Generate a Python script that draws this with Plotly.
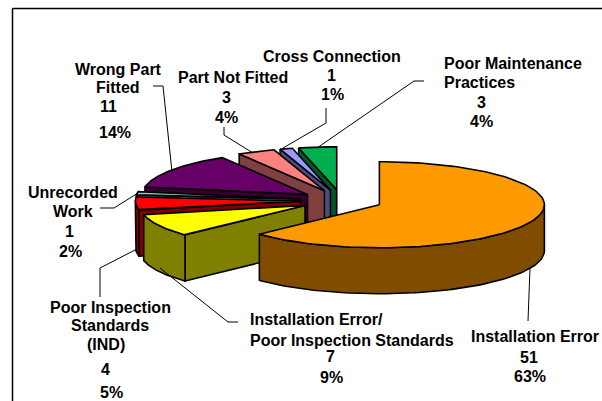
import numpy as np
import plotly.graph_objects as go

categories = ["Installation Error", "Installation Error/ Poor Inspection Standards",
              "Poor Inspection Standards (IND)", "Unrecorded Work", "Wrong Part Fitted",
              "Part Not Fitted", "Cross Connection", "Poor Maintenance Practices"]
values = [51, 7, 4, 1, 11, 3, 1, 3]
top_colors = ["#FF9900", "#FFFF00", "#FF0000", "#99CCCC", "#660066", "#FF8080", "#9999FF", "#00B050"]
side_colors = ["#804D00", "#808000", "#800000", "#4D6666", "#330033", "#804040", "#4D4D80", "#005828"]

# label text lines: text, centre x, centre y (pixels)
label_lines = [
    ("Wrong Part", 118, 69), ("Fitted", 118, 87), ("11", 108, 106), ("14%", 115, 132),
    ("Part Not Fitted", 233, 77), ("3", 226, 97), ("4%", 226, 117),
    ("Cross Connection", 332, 56), ("1", 331, 75), ("1%", 332, 94),
    ("Poor Maintenance", 513, 63), ("Practices", 479, 82), ("3", 481, 102), ("4%", 481, 121),
    ("Unrecorded", 73, 192), ("Work", 73, 211), ("1", 69, 231), ("2%", 70, 251),
    ("Poor Inspection", 110, 307), ("Standards", 110, 325), ("(IND)", 106, 344), ("4", 105, 369), ("5%", 111, 392),
    ("Installation Error/", 316, 319), ("Poor Inspection Standards", 351.5, 340), ("7", 330, 356), ("9%", 331, 377),
    ("Installation Error", 535, 336), ("51", 529, 357), ("63%", 530, 376),
]

leaders = [
    [(153, 86), (163, 86), (172, 172)],
    [(224, 127), (224, 135), (253, 153)],
    [(326, 108), (326, 123), (283, 148)],
    [(424, 81), (414, 81), (317, 148)],
    [(100, 208), (114, 208), (138, 193)],
    [(100, 297), (100, 268), (137, 249)],
    [(238, 322), (228, 322), (160, 268)],
    [(528, 321), (530, 268)],
]

# pie geometry in pixels
CX, CY, RX, RY, DEPTH, EXPLODE = 341.5, 200.5, 165, 43, 46, 0.25

total = sum(values)
edges = np.concatenate([[0], np.cumsum(values)]) / total * 360


def pt(c, a, r=1.0):
    t = np.radians(a)
    return c[0] + r * RX * np.sin(t), c[1] - r * RY * np.cos(t)


fig = go.Figure()


def poly(xs, ys, color):
    fig.add_trace(go.Scatter(x=list(xs), y=list(ys), mode="lines", fill="toself", fillcolor=color,
                             line=dict(color="black", width=1.6), hoverinfo="skip", showlegend=False))


# painter's order: back slices first
for i in list(range(len(values) - 1, -1, -1)):
    a0, a1 = edges[i], edges[i + 1]
    mid = (a0 + a1) / 2
    c = pt((CX, CY), mid, EXPLODE)
    # radial wall facing the viewer
    if np.sin(np.radians(a0)) < -1e-6:
        x1, y1 = pt(c, a0)
        poly([c[0], x1, x1, c[0], c[0]], [c[1], y1, y1 + DEPTH, c[1] + DEPTH, c[1]], side_colors[i])
    # outer curved wall, front half only
    f0, f1 = max(a0, 90), min(a1, 270)
    if f1 > f0:
        arc = np.linspace(f0, f1, 80)
        ax, ay = pt(c, arc)
        poly(np.r_[ax, ax[::-1], ax[0]], np.r_[ay, ay[::-1] + DEPTH, ay[0]], side_colors[i])
    # top face
    arc = np.linspace(a0, a1, 120)
    ax, ay = pt(c, arc)
    poly(np.r_[c[0], ax, c[0]], np.r_[c[1], ay, c[1]], top_colors[i])

for line in leaders:
    fig.add_trace(go.Scatter(x=[p[0] for p in line], y=[p[1] for p in line], mode="lines",
                             line=dict(color="black", width=1), hoverinfo="skip", showlegend=False))

# outer frame (left and top only are inside the picture)
fig.add_shape(type="line", x0=12.5, x1=12.5, y0=8.5, y1=401, line=dict(color="black", width=1.5))
fig.add_shape(type="line", x0=12.5, x1=602, y0=8.5, y1=8.5, line=dict(color="black", width=1.5))

for text, x, y in label_lines:
    fig.add_annotation(x=x, y=y, text=text, showarrow=False, xanchor="center", yanchor="middle",
                       borderpad=0, borderwidth=0,
                       font=dict(family="Liberation Sans", size=16, color="black", weight="bold"))

fig.update_layout(width=602, height=401, margin=dict(l=0, r=0, t=0, b=0),
                  paper_bgcolor="white", plot_bgcolor="white",
                  xaxis=dict(range=[0, 602], visible=False, fixedrange=True),
                  yaxis=dict(range=[401, 0], visible=False, fixedrange=True))
fig.write_html("out.html", config={"displayModeBar": False},
               post_script="document.body.style.margin='0';document.body.style.overflow='hidden';")
